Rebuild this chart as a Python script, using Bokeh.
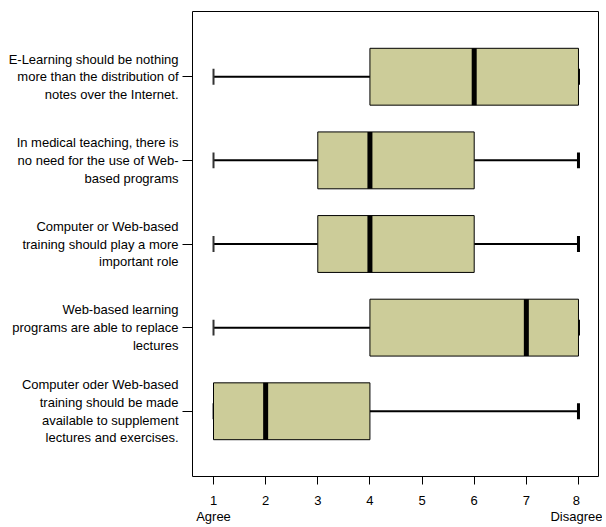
from bokeh.plotting import figure
from bokeh.models import FactorRange, Range1d, FixedTicker, ColumnDataSource
from bokeh.embed import file_html
from bokeh.resources import INLINE

categories = [
    "E-Learning should be nothing\nmore than the distribution of\nnotes over the Internet.",
    "In medical teaching, there is\nno need for the use of Web-\nbased programs",
    "Computer or Web-based\ntraining should play a more\nimportant role",
    "Web-based learning\nprograms are able to replace\nlectures",
    "Computer oder Web-based\ntraining should be made\navailable to supplement\nlectures and exercises.",
]
mins = [1, 1, 1, 1, 1]
q1s = [4, 3, 3, 4, 1]
medians = [6, 4, 4, 7, 2]
q3s = [8, 6, 6, 8, 4]
maxs = [8, 8, 8, 8, 8]
x_ticks = [1, 2, 3, 4, 5, 6, 7, 8]
x_tick_labels = {1: "1\nAgree", 8: "8\nDisagree"}

FONT = "Liberation Sans"

src = ColumnDataSource(dict(cat=categories, mn=mins, q1=q1s, med=medians, q3=q3s, mx=maxs))

p = figure(
    width=602, height=527,
    y_range=FactorRange(factors=list(reversed(categories)), range_padding=0.28,
                        range_padding_units="absolute"),
    x_range=Range1d(0.597, 8.384),
    output_backend="svg", toolbar_location=None,
    min_border_left=192, min_border_right=4, min_border_top=11, min_border_bottom=50,
)

# whiskers
p.segment(x0="mn", y0="cat", x1="q1", y1="cat", source=src, line_color="black", line_width=2)
p.segment(x0="q3", y0="cat", x1="mx", y1="cat", source=src, line_color="black", line_width=2)
# caps
p.rect(x="mn", y="cat", width=2, width_units="screen", height=0.19, source=src,
       fill_color="#333333", line_color=None)
p.rect(x="mx", y="cat", width=3, width_units="screen", height=0.19, source=src,
       fill_color="black", line_color=None)
# boxes
p.hbar(y="cat", left="q1", right="q3", height=0.68, source=src,
       fill_color="#cccc99", line_color="black", line_width=1)
# medians
p.rect(x="med", y="cat", width=5, width_units="screen", height=0.68, source=src,
       fill_color="black", line_color=None)

p.xgrid.visible = False
p.ygrid.visible = False
p.outline_line_color = "black"
p.outline_line_width = 1
p.outline_line_alpha = 1

p.xaxis.ticker = FixedTicker(ticks=x_ticks)
p.xaxis.major_label_overrides = x_tick_labels
p.xaxis.axis_line_color = None
p.xaxis.minor_tick_line_color = None
p.xaxis.major_tick_in = 0
p.xaxis.major_tick_out = 8
p.xaxis.major_tick_line_color = "black"
p.xaxis.major_label_standoff = 8
p.xaxis.major_label_text_font = FONT
p.xaxis.major_label_text_font_size = "13px"
p.xaxis.major_label_text_color = "black"
p.xaxis.major_label_text_line_height = 1.1

p.yaxis.axis_line_color = None
p.yaxis.major_tick_in = 0
p.yaxis.major_tick_out = 10
p.yaxis.major_tick_line_color = "black"
p.yaxis.major_label_standoff = 4
p.yaxis.major_label_text_font = FONT
p.yaxis.major_label_text_font_size = "13px"
p.yaxis.major_label_text_color = "black"
p.yaxis.major_label_text_line_height = 1.18

open("out.html", "w").write(file_html(p, INLINE))
